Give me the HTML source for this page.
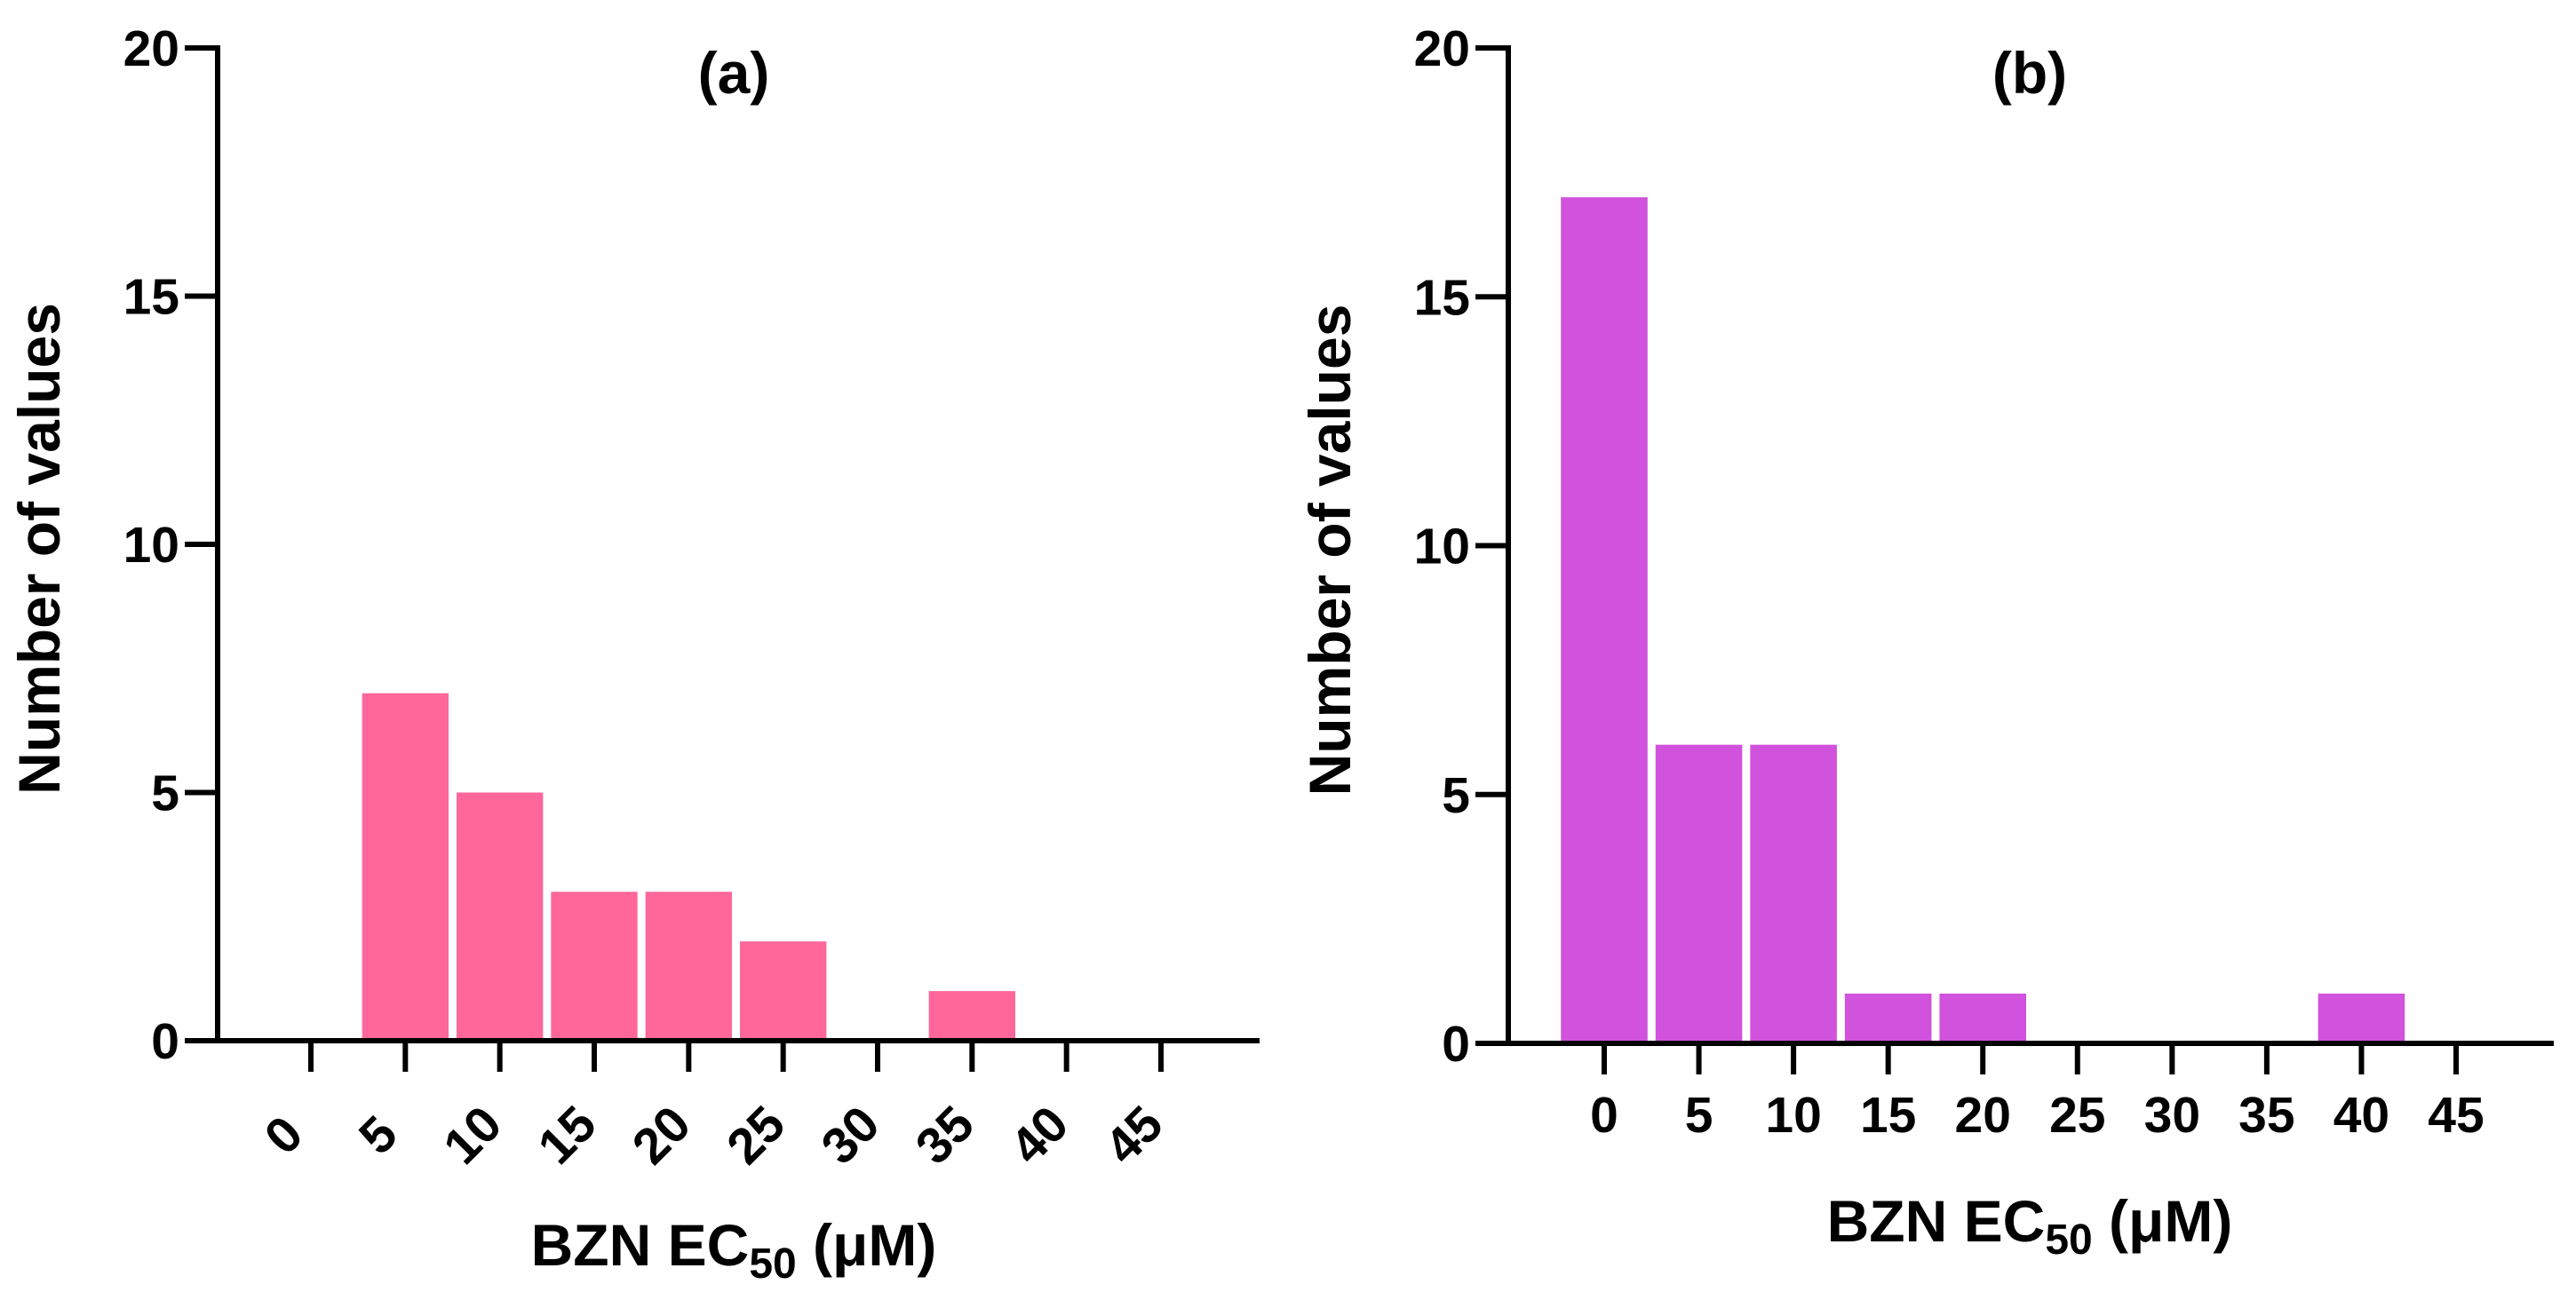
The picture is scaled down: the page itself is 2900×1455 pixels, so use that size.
<!DOCTYPE html>
<html><head><meta charset="utf-8">
<style>
html,body{margin:0;padding:0;background:#fff;}
svg{display:block;font-family:"Liberation Sans",Arial,sans-serif;font-weight:bold;}
</style></head>
<body>
<svg id="chart" width="2900" height="1455" viewBox="0 0 2900 1455" xmlns="http://www.w3.org/2000/svg"></svg>
<script>
const binsA = [0,5,10,15,20,25,30,35,40,45];
const countsA = [0,7,5,3,3,2,0,1,0,0];
const binsB = [0,5,10,15,20,25,30,35,40,45];
const countsB = [17,6,6,1,1,0,0,0,1,0];
const yTicks = [0,5,10,15,20];
const xTickLabels = ["0","5","10","15","20","25","30","35","40","45"];

const NS = "http://www.w3.org/2000/svg";
const svg = document.getElementById('chart');
function mk(tag, attrs, parent){
  const e = document.createElementNS(NS, tag);
  for (const k in attrs) e.setAttribute(k, attrs[k]);
  (parent||svg).appendChild(e);
  return e;
}

function panel(cfg){
  const g = mk('g', {});
  
  
  const yScale = v => cfg.y0 + (cfg.y20 - cfg.y0) * v / 20;
  const xScale = v => cfg.x0 + (cfg.x45 - cfg.x0) * v / 45;
  const step = (cfg.x45 - cfg.x0) / 9;
  const barW = step - 9;
  cfg.bins.forEach((b, i) => {
    const v = cfg.counts[i];
    if (v <= 0) return;
    const r = mk('rect', {x: xScale(b) - barW/2, y: yScale(v), width: barW, height: yScale(0) - yScale(v), fill: cfg.color}, g);
    
    
  });
  const ya = mk('line', {x1: cfg.ax, y1: cfg.y20 - 3, x2: cfg.ax, y2: cfg.y0 + 3, stroke: '#000', 'stroke-width': 6}, g);
  
  
  yTicks.forEach(t => {
    mk('line', {x1: cfg.ax - 37, y1: yScale(t), x2: cfg.ax, y2: yScale(t), stroke: '#000', 'stroke-width': 6}, g);
    const tx = mk('text', {x: cfg.ax - 43, y: yScale(t) + 20, 'font-size': 57, 'text-anchor': 'end'}, g);
    tx.textContent = t;
    
    
  });
  const xa = mk('line', {x1: cfg.ax - 3, y1: cfg.y0, x2: cfg.xEnd, y2: cfg.y0, stroke: '#000', 'stroke-width': 6}, g);
  
  
  binsA.forEach((b, i) => {
    const x = xScale(b);
    mk('line', {x1: x, y1: cfg.y0, x2: x, y2: cfg.y0 + 35, stroke: '#000', 'stroke-width': 6}, g);
    let tx;
    if (cfg.rotate) {
      tx = mk('text', {x: 0, y: 0, 'font-size': 57, 'text-anchor': 'middle', transform: `translate(${x - 17},${cfg.y0 + 120}) rotate(-45)`}, g);
    } else {
      tx = mk('text', {x: x, y: cfg.y0 + 100, 'font-size': 57, 'text-anchor': 'middle'}, g);
    }
    tx.textContent = xTickLabels[i];
    
    
  });
  const t = mk('text', {x: cfg.titleX, y: 105, 'font-size': 66, 'text-anchor': 'middle'}, g);
  t.textContent = cfg.title;
  
  
  const yt = mk('text', {x: 0, y: 0, 'font-size': 66, 'text-anchor': 'middle', transform: `translate(${cfg.ax - 178},${(cfg.y0 + cfg.y20)/2 + 5}) rotate(-90)`}, g);
  yt.textContent = 'Number of values';
  
  
  const xt = mk('text', {x: cfg.titleX, y: cfg.xTitleY, 'font-size': 66, 'text-anchor': 'middle'}, g);
  xt.innerHTML = 'BZN EC<tspan font-size="48" dy="14">50</tspan><tspan dy="-14"> (μM)</tspan>';
  
  
}

panel({name: 'panel-a', bins: binsA, counts: countsA, color: '#FF6699', ax: 245, y0: 1172, y20: 54, x0: 350, x45: 1307, xEnd: 1418, rotate: true, title: '(a)', titleX: 826, xTitleY: 1425});
panel({name: 'panel-b', bins: binsB, counts: countsB, color: '#D152DC', ax: 1698, y0: 1175, y20: 54, x0: 1806, x45: 2765, xEnd: 2875, rotate: false, title: '(b)', titleX: 2285, xTitleY: 1398});
</script>
</body></html>
